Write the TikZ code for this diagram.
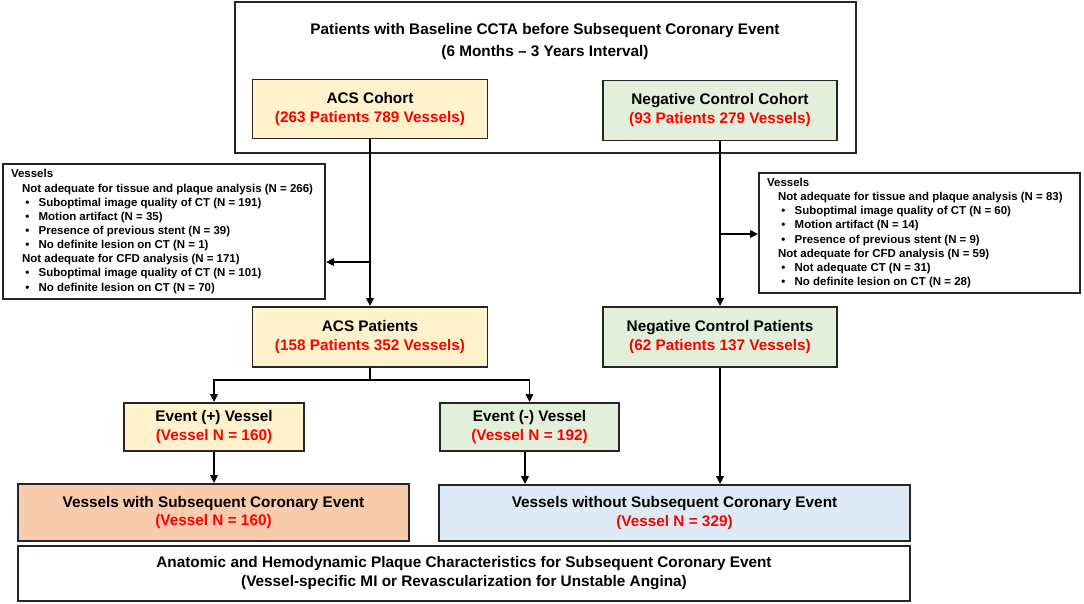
\documentclass[tikz,border=0pt]{standalone}
\usepackage{fontspec}
\setmainfont{Liberation Sans}
\usetikzlibrary{arrows.meta,calc}
\definecolor{yel}{HTML}{FFF2CC}
\definecolor{grn}{HTML}{E2EFDA}
\definecolor{org}{HTML}{F8CBAD}
\definecolor{blu}{HTML}{DEEBF7}
\definecolor{rd}{HTML}{FF0000}
\definecolor{bd}{HTML}{262626}
\newcommand\rt[1]{\textcolor{rd}{#1}}
\newcommand\bl[1]{\hspace*{10.7pt}\makebox[10pt][l]{•}#1}
\newcommand\sbh{\hspace*{8.25pt}}
\begin{document}
\begin{tikzpicture}[x=0.75pt,y=-0.75pt,
  box/.style={draw=bd, line width=1.3pt, inner sep=0pt, align=center,
    font=\bfseries\fontsize{11.5}{14.2}\selectfont},
  listbox/.style={draw=bd, line width=1.3pt, inner sep=0pt, fill=white},
  listtext/.style={inner sep=0pt, align=left,
    font=\bfseries\fontsize{8.6}{10.6}\selectfont},
  titletext/.style={inner sep=0pt, align=center,
    font=\bfseries\fontsize{11.5}{16.5}\selectfont},
  conn/.style={line width=1.4pt, draw=black},
  arr/.style={conn, -{Triangle[length=6pt,width=5.5pt]}}]
\useasboundingbox (0,0) rectangle (1084,603);

% outer top box
\node[box, minimum width=465.75pt, minimum height=113.25pt] (outer) at (545.5,77.5) {};
\node[titletext] (title) at (545,41.5)
  {Patients with Baseline CCTA before Subsequent Coronary Event\\(6 Months – 3 Years Interval)};

\node[box, fill=yel, minimum width=176.25pt, minimum height=44.25pt] (acsc) at (370,109)
  {ACS Cohort\\\rt{(263 Patients 789 Vessels)}};
\node[box, fill=grn, minimum width=175.5pt, minimum height=45pt] (negc) at (720,110.5)
  {Negative Control Cohort\\\rt{(93 Patients 279 Vessels)}};

% exclusion boxes
\node[listbox, minimum width=241.5pt, minimum height=101.25pt] (ll) at (164,231.5) {};
\node[listtext, anchor=west] (llt) at ($(ll.west)+(8.7,0)$)
  {Vessels\\
   \sbh Not adequate for tissue and plaque analysis (N = 266)\\
   \bl{Suboptimal image quality of CT (N = 191)}\\
   \bl{Motion artifact (N = 35)}\\
   \bl{Presence of previous stent (N = 39)}\\
   \bl{No definite lesion on CT (N = 1)}\\
   \sbh Not adequate for CFD analysis (N = 171)\\
   \bl{Suboptimal image quality of CT (N = 101)}\\
   \bl{No definite lesion on CT (N = 70)}};

\node[listbox, minimum width=240.75pt, minimum height=90pt] (rl) at (919.5,233) {};
\node[listtext, anchor=west] (rlt) at ($(rl.west)+(8.7,0)$)
  {Vessels\\
   \sbh Not adequate for tissue and plaque analysis (N = 83)\\
   \bl{Suboptimal image quality of CT (N = 60)}\\
   \bl{Motion artifact (N = 14)}\\
   \bl{Presence of previous stent (N = 9)}\\
   \sbh Not adequate for CFD analysis (N = 59)\\
   \bl{Not adequate CT (N = 31)}\\
   \bl{No definite lesion on CT (N = 28)}};

\node[box, fill=yel, minimum width=176.25pt, minimum height=45pt] (acsp) at (370,337)
  {ACS Patients\\\rt{(158 Patients 352 Vessels)}};
\node[box, fill=grn, minimum width=175.5pt, minimum height=45pt] (negp) at (720,337)
  {Negative Control Patients\\\rt{(62 Patients 137 Vessels)}};

\node[box, fill=yel, minimum width=135pt, minimum height=36pt] (evp) at (214,427)
  {Event (+) Vessel\\\rt{(Vessel N = 160)}};
\node[box, fill=grn, minimum width=134.25pt, minimum height=36pt] (evm) at (529.5,427)
  {Event (-) Vessel\\\rt{(Vessel N = 192)}};

\node[box, fill=org, minimum width=293.25pt, minimum height=42.75pt] (vw) at (213.5,512.5)
  {Vessels with Subsequent Coronary Event\\\rt{(Vessel N = 160)}};
\node[box, fill=blu, minimum width=353.25pt, minimum height=42pt] (vwo) at (674.5,513)
  {Vessels without Subsequent Coronary Event\\\rt{(Vessel N = 329)}};

\node[box, fill=white, minimum width=669pt, minimum height=41.25pt] (bot) at (464,573.5)
  {Anatomic and Hemodynamic Plaque Characteristics for Subsequent Coronary Event\\(Vessel-specific MI or Revascularization for Unstable Angina)};

% connectors
\draw[arr] (acsc.south) -- (acsp.north);
\coordinate (lb) at (acsc.south |- 0,262);
\draw[arr] (lb) -- (lb -| ll.east);

\draw[arr] (negc.south) -- (negp.north);
\coordinate (rb) at (negc.south |- 0,234);
\draw[arr] (rb) -- (rb -| rl.west);

\coordinate (sp) at (acsp.south |- 0,380);
\draw[conn] (acsp.south) -- (sp);
\draw[arr] (sp) -| (evp.north);
\draw[arr] (sp) -| (evm.north);

\draw[arr] (evp.south) -- (evp.south |- vw.north);
\coordinate (evmb) at ($(evm.south)+(-4.5,0)$);
\draw[arr] (evmb) -- (evmb |- vwo.north);
\draw[arr] (negp.south) -- (negp.south |- vwo.north);
\end{tikzpicture}
\end{document}
